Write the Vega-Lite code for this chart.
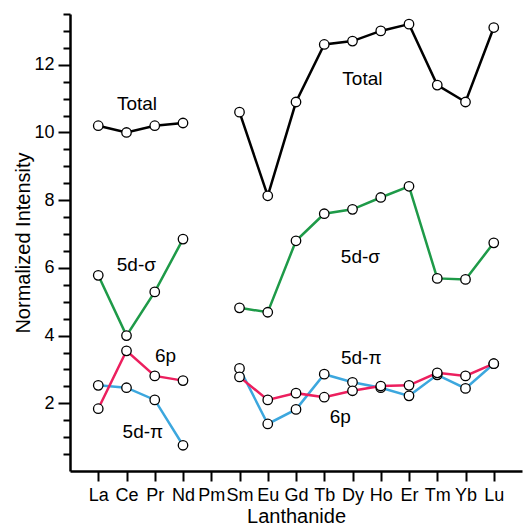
{
"$schema":"https://vega.github.io/schema/vega-lite/v6.json",
"width":452,"height":457,
"autosize":{"type":"none"},
"padding":{"left":70,"top":14,"right":1,"bottom":58},
"config":{"view":{"stroke":null},"font":"Liberation Sans","axis":{"grid":false,"domainColor":"black","tickColor":"black","labelColor":"black","titleColor":"black","labelFont":"Liberation Sans","titleFont":"Liberation Sans","titleFontWeight":"normal"}},
"datasets":{
"intensity":[
{"el":"La","Z":57,"series":"Total","value":10.2,"part":"a"},
{"el":"Ce","Z":58,"series":"Total","value":10.0,"part":"a"},
{"el":"Pr","Z":59,"series":"Total","value":10.2,"part":"a"},
{"el":"Nd","Z":60,"series":"Total","value":10.28,"part":"a"},
{"el":"Sm","Z":62,"series":"Total","value":10.6,"part":"b"},
{"el":"Eu","Z":63,"series":"Total","value":8.13,"part":"b"},
{"el":"Gd","Z":64,"series":"Total","value":10.9,"part":"b"},
{"el":"Tb","Z":65,"series":"Total","value":12.6,"part":"b"},
{"el":"Dy","Z":66,"series":"Total","value":12.7,"part":"b"},
{"el":"Ho","Z":67,"series":"Total","value":13.0,"part":"b"},
{"el":"Er","Z":68,"series":"Total","value":13.2,"part":"b"},
{"el":"Tm","Z":69,"series":"Total","value":11.4,"part":"b"},
{"el":"Yb","Z":70,"series":"Total","value":10.9,"part":"b"},
{"el":"Lu","Z":71,"series":"Total","value":13.1,"part":"b"},
{"el":"La","Z":57,"series":"5d-σ","value":5.78,"part":"a"},
{"el":"Ce","Z":58,"series":"5d-σ","value":4.0,"part":"a"},
{"el":"Pr","Z":59,"series":"5d-σ","value":5.29,"part":"a"},
{"el":"Nd","Z":60,"series":"5d-σ","value":6.85,"part":"a"},
{"el":"Sm","Z":62,"series":"5d-σ","value":4.82,"part":"b"},
{"el":"Eu","Z":63,"series":"5d-σ","value":4.69,"part":"b"},
{"el":"Gd","Z":64,"series":"5d-σ","value":6.8,"part":"b"},
{"el":"Tb","Z":65,"series":"5d-σ","value":7.6,"part":"b"},
{"el":"Dy","Z":66,"series":"5d-σ","value":7.73,"part":"b"},
{"el":"Ho","Z":67,"series":"5d-σ","value":8.08,"part":"b"},
{"el":"Er","Z":68,"series":"5d-σ","value":8.41,"part":"b"},
{"el":"Tm","Z":69,"series":"5d-σ","value":5.69,"part":"b"},
{"el":"Yb","Z":70,"series":"5d-σ","value":5.66,"part":"b"},
{"el":"Lu","Z":71,"series":"5d-σ","value":6.74,"part":"b"},
{"el":"La","Z":57,"series":"5d-π","value":2.53,"part":"a"},
{"el":"Ce","Z":58,"series":"5d-π","value":2.46,"part":"a"},
{"el":"Pr","Z":59,"series":"5d-π","value":2.1,"part":"a"},
{"el":"Nd","Z":60,"series":"5d-π","value":0.76,"part":"a"},
{"el":"Sm","Z":62,"series":"5d-π","value":3.03,"part":"b"},
{"el":"Eu","Z":63,"series":"5d-π","value":1.39,"part":"b"},
{"el":"Gd","Z":64,"series":"5d-π","value":1.82,"part":"b"},
{"el":"Tb","Z":65,"series":"5d-π","value":2.86,"part":"b"},
{"el":"Dy","Z":66,"series":"5d-π","value":2.62,"part":"b"},
{"el":"Ho","Z":67,"series":"5d-π","value":2.46,"part":"b"},
{"el":"Er","Z":68,"series":"5d-π","value":2.22,"part":"b"},
{"el":"Tm","Z":69,"series":"5d-π","value":2.84,"part":"b"},
{"el":"Yb","Z":70,"series":"5d-π","value":2.44,"part":"b"},
{"el":"Lu","Z":71,"series":"5d-π","value":3.17,"part":"b"},
{"el":"La","Z":57,"series":"6p","value":1.84,"part":"a"},
{"el":"Ce","Z":58,"series":"6p","value":3.55,"part":"a"},
{"el":"Pr","Z":59,"series":"6p","value":2.81,"part":"a"},
{"el":"Nd","Z":60,"series":"6p","value":2.67,"part":"a"},
{"el":"Sm","Z":62,"series":"6p","value":2.78,"part":"b"},
{"el":"Eu","Z":63,"series":"6p","value":2.1,"part":"b"},
{"el":"Gd","Z":64,"series":"6p","value":2.3,"part":"b"},
{"el":"Tb","Z":65,"series":"6p","value":2.18,"part":"b"},
{"el":"Dy","Z":66,"series":"6p","value":2.37,"part":"b"},
{"el":"Ho","Z":67,"series":"6p","value":2.51,"part":"b"},
{"el":"Er","Z":68,"series":"6p","value":2.53,"part":"b"},
{"el":"Tm","Z":69,"series":"6p","value":2.9,"part":"b"},
{"el":"Yb","Z":70,"series":"6p","value":2.81,"part":"b"},
{"el":"Lu","Z":71,"series":"6p","value":3.17,"part":"b"}
],
"labels":[
{"text":"Total","Z":58.37,"value":10.85},
{"text":"Total","Z":66.35,"value":11.58},
{"text":"5d-σ","Z":58.35,"value":6.1},
{"text":"5d-σ","Z":66.28,"value":6.33},
{"text":"6p","Z":59.38,"value":3.4},
{"text":"5d-π","Z":58.58,"value":1.16},
{"text":"5d-π","Z":66.31,"value":3.33},
{"text":"6p","Z":65.57,"value":1.6}
]},
"encoding":{
"x":{"field":"Z","type":"quantitative","scale":{"domain":[56,72],"nice":false,"zero":false},
"axis":{"title":"Lanthanide","values":[57,58,59,60,61,62,63,64,65,66,67,68,69,70,71],"tickCount":16,"labelExpr":"['La','Ce','Pr','Nd','Pm','Sm','Eu','Gd','Tb','Dy','Ho','Er','Tm','Yb','Lu'][datum.value-57]","tickSize":10,"tickWidth":2,"domainWidth":2.5,"labelFontSize":18,"labelPadding":5,"titleFontSize":20,"titlePadding":2,"labelFlush":false,"labelOverlap":false,"labelBound":false}}
},
"resolve":{"scale":{"y":"shared","x":"shared"},"axis":{"y":"independent"}},
"layer":[
{"data":{"name":"intensity"},
"mark":{"type":"line","strokeWidth":2.5},
"encoding":{
"y":{"field":"value","type":"quantitative","scale":{"domain":[0,13.5],"nice":false},
"axis":{"title":"Normalized Intensity","values":[2,4,6,8,10,12],"tickSize":12,"tickWidth":2,"domainWidth":2.5,"labelFontSize":18,"labelPadding":4,"titleFontSize":20,"titlePadding":0}},
"color":{"field":"series","type":"nominal","scale":{"domain":["Total","5d-σ","6p","5d-π"],"range":["#000000","#1e9a48","#ec1f5e","#3ca7de"]},"legend":null},
"detail":{"field":"part"},
"order":{"field":"Z"}}},
{"data":{"name":"intensity"},
"mark":{"type":"point","shape":"circle","filled":false,"fill":"white","fillOpacity":1,"stroke":"black","strokeWidth":1.3,"size":90},
"encoding":{
"y":{"field":"value","type":"quantitative","axis":{"orient":"left","values":[0.5,1,1.5,2.5,3,3.5,4.5,5,5.5,6.5,7,7.5,8.5,9,9.5,10.5,11,11.5,12.5,13,13.5],"labels":false,"title":null,"tickSize":7,"tickWidth":2,"domain":false}}}},
{"data":{"name":"labels"},
"mark":{"type":"text","fontSize":19,"font":"Liberation Sans","align":"center","baseline":"middle","color":"black"},
"encoding":{
"y":{"field":"value","type":"quantitative","axis":null},
"text":{"field":"text"}}}
]
}
